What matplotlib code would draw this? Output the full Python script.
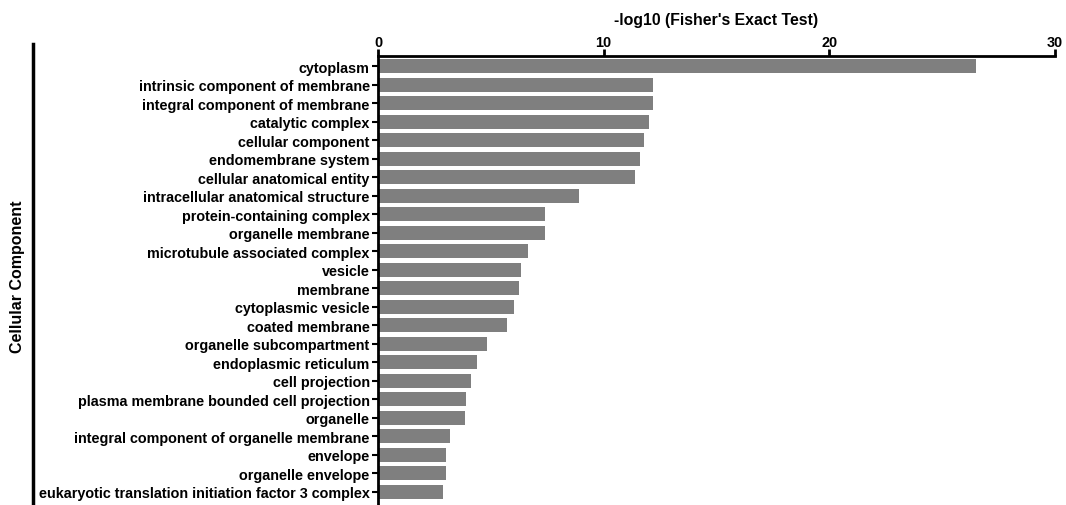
import numpy as np
import matplotlib.pyplot as plt
from matplotlib.lines import Line2D

plt.rcParams['font.family'] = ['Liberation Sans', 'DejaVu Sans']
plt.rcParams['font.weight'] = 'bold'

# GO cellular component terms and their enrichment scores
terms = [
    "cytoplasm",
    "intrinsic component of membrane",
    "integral component of membrane",
    "catalytic complex",
    "cellular component",
    "endomembrane system",
    "cellular anatomical entity",
    "intracellular anatomical structure",
    "protein-containing complex",
    "organelle membrane",
    "microtubule associated complex",
    "vesicle",
    "membrane",
    "cytoplasmic vesicle",
    "coated membrane",
    "organelle subcompartment",
    "endoplasmic reticulum",
    "cell projection",
    "plasma membrane bounded cell projection",
    "organelle",
    "integral component of organelle membrane",
    "envelope",
    "organelle envelope",
    "eukaryotic translation initiation factor 3 complex",
]
scores = [26.5, 12.18, 12.18, 12.0, 11.8, 11.59, 11.39, 8.92, 7.41, 7.41,
          6.66, 6.34, 6.23, 6.03, 5.70, 4.82, 4.39, 4.11, 3.90, 3.87,
          3.20, 3.01, 3.01, 2.89]
xticks = [0, 10, 20, 30]
category = "Cellular Component"

fig = plt.figure(figsize=(10.66, 5.06), dpi=100)
ax = fig.add_axes([0.3546, 0.002, 0.6351, 0.8855])

y = np.arange(len(terms))
ax.barh(y, scores, height=0.75, color='#7f7f7f', edgecolor='none')

ax.set_xlim(0, 30)
ax.set_ylim(len(terms) - 0.35, -0.55)
ax.set_yticks(y)
ax.set_yticklabels(terms, fontsize=10.4, fontweight='bold')
ax.set_xticks(xticks)
ax.xaxis.tick_top()
ax.xaxis.set_label_position('top')
ax.set_xticklabels([str(t) for t in xticks], fontsize=10.4, fontweight='bold')
ax.set_xlabel("-log10 (Fisher's Exact Test)", fontsize=11.4, fontweight='bold', labelpad=8)

for s in ['right', 'bottom']:
    ax.spines[s].set_visible(False)
for s in ['top', 'left']:
    ax.spines[s].set_linewidth(2)
ax.tick_params(axis='x', width=2, length=5, pad=0, color='black')
ax.tick_params(axis='y', width=1.5, length=4, pad=2, color='black')

# category bracket on the far left
fig.add_artist(Line2D([33 / 1066, 33 / 1066], [1 - 45 / 506, 1 - 505 / 506],
                      transform=fig.transFigure, color='black', linewidth=2.5))
fig.text(18 / 1066, 1 - 277 / 506, category, rotation=90, ha='center', va='center',
         fontsize=11.5, fontweight='bold')

fig.savefig('out.png', dpi=100)
